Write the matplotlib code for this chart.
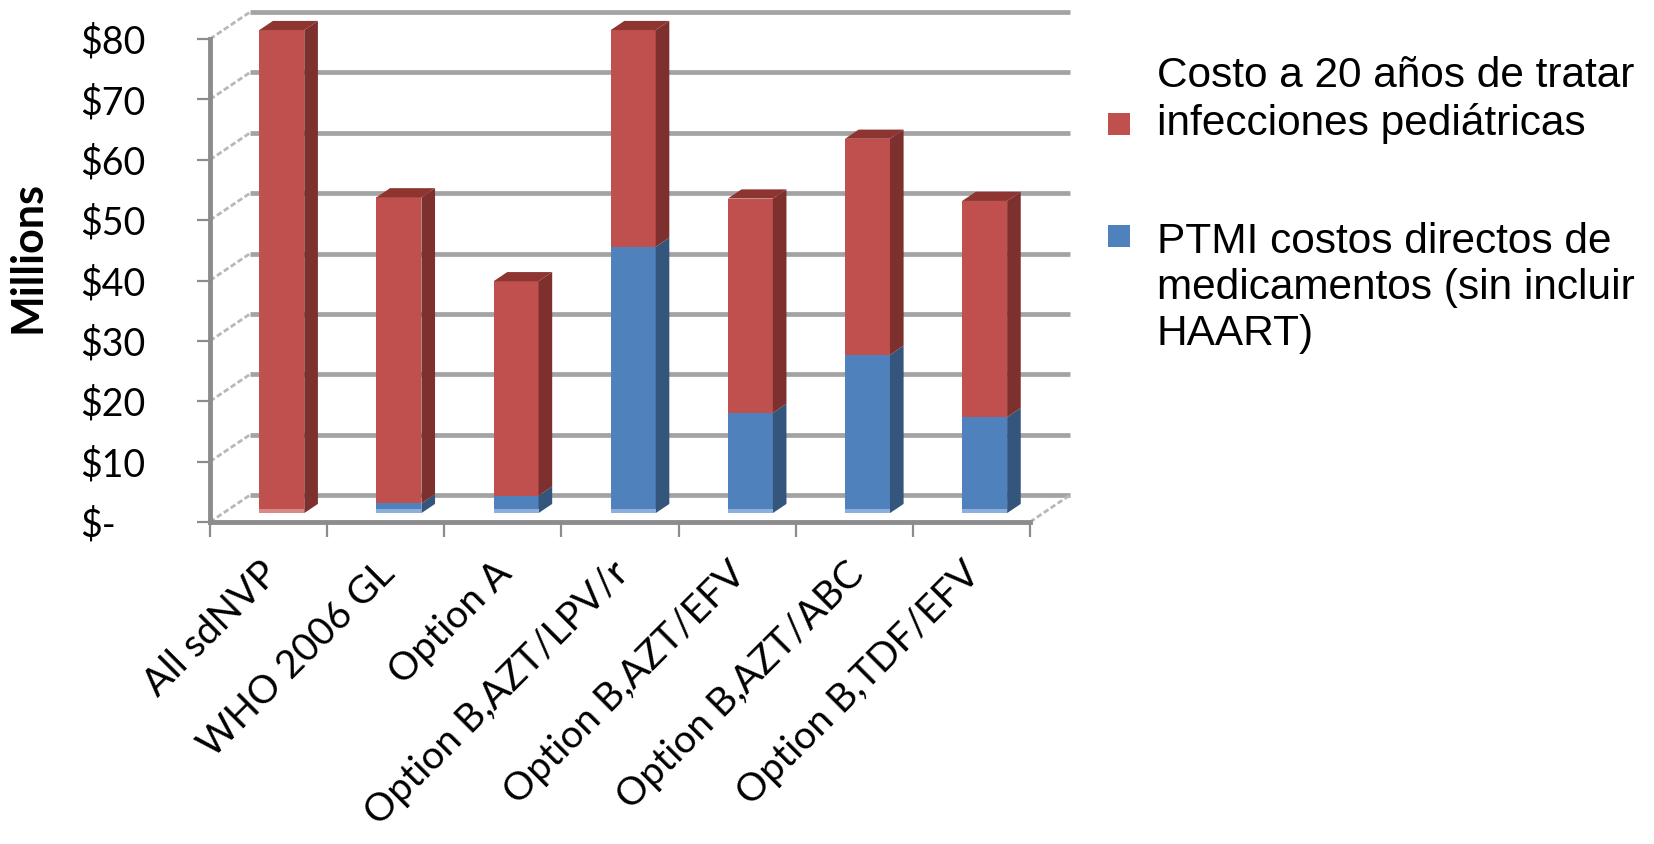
"""Stacked cost bars drawn with a simple oblique 3D look"""

import matplotlib.pyplot as plt
from matplotlib.patches import Polygon, Rectangle

categories = [
    "All sdNVP",
    "WHO 2006 GL",
    "Option A",
    "Option B,AZT/LPV/r",
    "Option B,AZT/EFV",
    "Option B,AZT/ABC",
    "Option B,TDF/EFV",
]
# Millions of dollars
ptmi_cost = [0.0, 1.6, 2.9, 44.1, 16.6, 26.2, 15.9]
pediatric_cost = [80.0, 50.7, 35.5, 35.9, 35.5, 35.8, 35.8]

y_ticks = [0, 10, 20, 30, 40, 50, 60, 70, 80]
y_tick_labels = ["$-", "$10", "$20", "$30", "$40", "$50", "$60", "$70", "$80"]

legend_labels = [
    "Costo a 20 años de tratar\ninfecciones pediátricas",
    "PTMI costos directos de\nmedicamentos (sin incluir\nHAART)",
]

colors = {
    "red": "#C0504D",
    "red_side": "#7D302E",
    "red_top": "#8E3532",
    "red_edge": "#D98A88",
    "blue": "#4F81BD",
    "blue_side": "#34557C",
    "blue_top": "#3D6391",
    "blue_edge": "#8DB0DA",
}

W, H = 1654, 844
fig = plt.figure(figsize=(W / 100, H / 100), dpi=100)

# axes placed so that one category is ~117 px and one unit ~6 px
ax = fig.add_axes([210 / W, (H - 522) / H, 7.5 * 117.14 / W, 86 * 6.0375 / H])
ax.set_xlim(0, 7.5)
ax.set_ylim(0, 86)
for s in ax.spines.values():
    s.set_visible(False)

n = len(categories)
# depth of the box in data units (x in categories, y in millions)
DX, DY = 0.342, 4.47
grid_c = "#a3a3a3"
axis_c = "#8c8c8c"

# back wall gridlines and the slanted lines on the left wall
for v in y_ticks:
    ax.plot([DX, n + DX], [v + DY, v + DY], color=grid_c, lw=3.4, solid_capstyle="butt", zorder=1)
    ax.plot([0, DX], [v, v + DY], color="#b8b8b8", lw=2.0, ls=(0, (2, 1)), zorder=1, clip_on=False)
# floor right edge
ax.plot([n, n + DX], [0, DY], color="#b8b8b8", lw=2.0, ls=(0, (2, 1)), zorder=1)

# front axis lines
ax.plot([0, 0], [0, 80], color=axis_c, lw=3.5, zorder=5, clip_on=False)
ax.plot([0, n], [0, 0], color=axis_c, lw=3.5, zorder=5, clip_on=False)

# bars sit in the middle of the depth
f0, f1 = 0.33, 0.67
bw = 0.384
ddx, ddy = (f1 - f0) * DX, (f1 - f0) * DY


def draw_segment(xc, base, height, front, side, top, is_top):
    x0 = xc - bw / 2
    x1 = xc + bw / 2
    y0 = base
    y1 = base + height
    if height <= 0:
        return
    ax.bar(xc, height, width=bw, bottom=base, color=front, zorder=3)
    ax.add_patch(Polygon([(x1, y0), (x1 + ddx, y0 + ddy), (x1 + ddx, y1 + ddy), (x1, y1)],
                         closed=True, facecolor=side, edgecolor="none", zorder=3))
    if is_top:
        ax.add_patch(Polygon([(x0, y1), (x0 + ddx, y1 + ddy), (x1 + ddx, y1 + ddy), (x1, y1)],
                             closed=True, facecolor=top, edgecolor="none", zorder=3))


for i in range(n):
    xc = i + 0.5 + f0 * DX
    base = f0 * DY
    draw_segment(xc, base, ptmi_cost[i], colors["blue"], colors["blue_side"],
                 colors["blue_top"], pediatric_cost[i] <= 0)
    draw_segment(xc, base + ptmi_cost[i], pediatric_cost[i], colors["red"], colors["red_side"],
                 colors["red_top"], True)
    # soft light edge along the bottom of the front face
    edge = colors["blue_edge"] if ptmi_cost[i] > 0 else colors["red_edge"]
    ax.bar(xc, 0.6, width=bw, bottom=base, color=edge, zorder=4)

tick_font = "Lato"

# y axis ticks
ax.set_yticks(y_ticks)
ax.set_yticklabels(y_tick_labels, fontsize=27, family=tick_font)
ax.tick_params(axis="y", direction="out", length=9.4, width=1.6, color=axis_c, pad=84)
for lbl in ax.get_yticklabels():
    lbl.set_horizontalalignment("left")
    lbl.set_verticalalignment("center_baseline")

# x axis: marks at the category borders, labels just left of the centres
ax.set_xticks(range(n + 1), minor=True)
ax.tick_params(axis="x", which="minor", direction="out", length=10.8, width=1.6, color=axis_c)
ax.set_xticks([i + 0.42 for i in range(n)])
ax.set_xticklabels(categories, fontsize=28, family=tick_font)
ax.tick_params(axis="x", which="major", length=0, pad=24)
for lbl in ax.get_xticklabels():
    lbl.set_rotation(45)
    lbl.set_horizontalalignment("right")
    lbl.set_verticalalignment("top")
    lbl.set_rotation_mode("anchor")

fig.text(28 / W, 1 - 257 / H, "Millions", rotation=90, fontsize=31, fontweight="bold",
         family=tick_font, ha="center", va="center")

# legend
leg_font = "Liberation Sans"
leg_items = [
    (legend_labels[0], colors["red"], 100, 124),
    (legend_labels[1], colors["blue"], 288, 236),
]
for text, c, ty, my in leg_items:
    fig.patches.append(Rectangle((1108 / W, 1 - (my + 11) / H), 22 / W, 22 / H,
                                 transform=fig.transFigure, facecolor=c, edgecolor="none"))
    fig.text(1157 / W, 1 - ty / H, text, fontsize=30.5, family=leg_font, ha="left", va="center",
             linespacing=1.2)

plt.savefig("out.png", dpi=100)
